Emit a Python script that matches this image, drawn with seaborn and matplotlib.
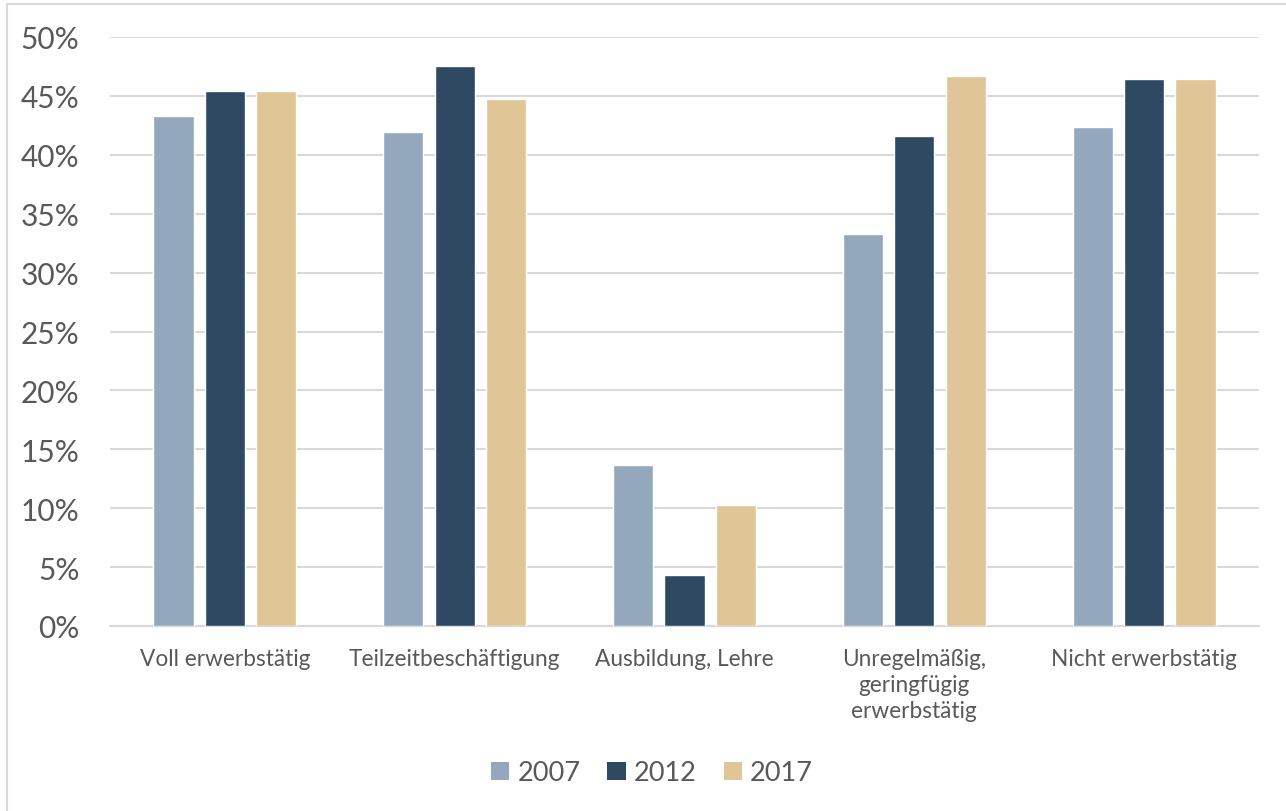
import matplotlib
matplotlib.use("Agg")
import matplotlib.pyplot as plt
from matplotlib.lines import Line2D
from matplotlib.patches import Patch
import seaborn as sns
import pandas as pd

categories = ["Voll erwerbstätig", "Teilzeitbeschäftigung", "Ausbildung, Lehre",
              "Unregelmäßig,\ngeringfügig\nerwerbstätig", "Nicht erwerbstätig"]
years = ["2007", "2012", "2017"]
values_2007 = [43.3, 41.9, 13.7, 33.3, 42.4]
values_2012 = [45.4, 47.5, 4.3, 41.6, 46.4]
values_2017 = [45.4, 44.7, 10.3, 46.7, 46.4]
yticks = [0, 5, 10, 15, 20, 25, 30, 35, 40, 45, 50]
colors = ["#93A8BC", "#2E4961", "#E0C696"]

df = pd.DataFrame({
    "Kategorie": categories * 3,
    "Jahr": [y for y in years for _ in categories],
    "Anteil": values_2007 + values_2012 + values_2017,
})

sns.set_theme(style="white")
plt.rcParams["font.family"] = ["Lato", "DejaVu Sans"]
text_color = "#595959"
grid_color = "#D9D9D9"

W, H = 1286, 812
fig = plt.figure(figsize=(W / 100, H / 100), dpi=100)
ax = fig.add_axes([110 / W, 1 - 627 / H, (1259 - 110) / W, (627 - 38) / H])

sns.barplot(data=df, x="Kategorie", y="Anteil", hue="Jahr", order=categories,
            hue_order=years, palette=colors, width=0.672, gap=0.22,
            saturation=1, legend=False, ax=ax, zorder=3)

ax.set_ylim(0, 50)
ax.set_yticks(yticks)
ax.set_yticklabels([f"{t}%" for t in yticks])
ax.set_xlim(-0.5, len(categories) - 0.5)
ax.set_xlabel("")
ax.set_ylabel("")
ax.grid(axis="y", color=grid_color, linewidth=1.5, zorder=0)
ax.grid(axis="x", visible=False)
for side in ["left", "right", "top"]:
    ax.spines[side].set_visible(False)
ax.spines["bottom"].set_color(grid_color)
ax.spines["bottom"].set_linewidth(1.5)
ax.tick_params(axis="y", length=0, pad=22, labelsize=21.5, labelcolor=text_color)
ax.tick_params(axis="x", length=0, pad=16, labelsize=16.3, labelcolor=text_color)
for lbl in ax.get_xticklabels():
    lbl.set_linespacing(1.28)

handles = [Patch(facecolor=c, edgecolor="none") for c in colors]
fig.legend(handles, years, loc="center", bbox_to_anchor=(652 / W, 1 - 774 / H),
           ncol=3, frameon=False, fontsize=19.5, labelcolor=text_color,
           handlelength=0.67, handleheight=0.67, handletextpad=0.3,
           columnspacing=1.0)

# outer chart frame
fig.add_artist(Line2D([7 / W, 1], [1 - 5 / H, 1 - 5 / H], color=grid_color,
                      linewidth=1.5, transform=fig.transFigure))
fig.add_artist(Line2D([7 / W, 7 / W], [0, 1 - 5 / H], color=grid_color,
                      linewidth=1.5, transform=fig.transFigure))

fig.savefig("out.png", dpi=100)
